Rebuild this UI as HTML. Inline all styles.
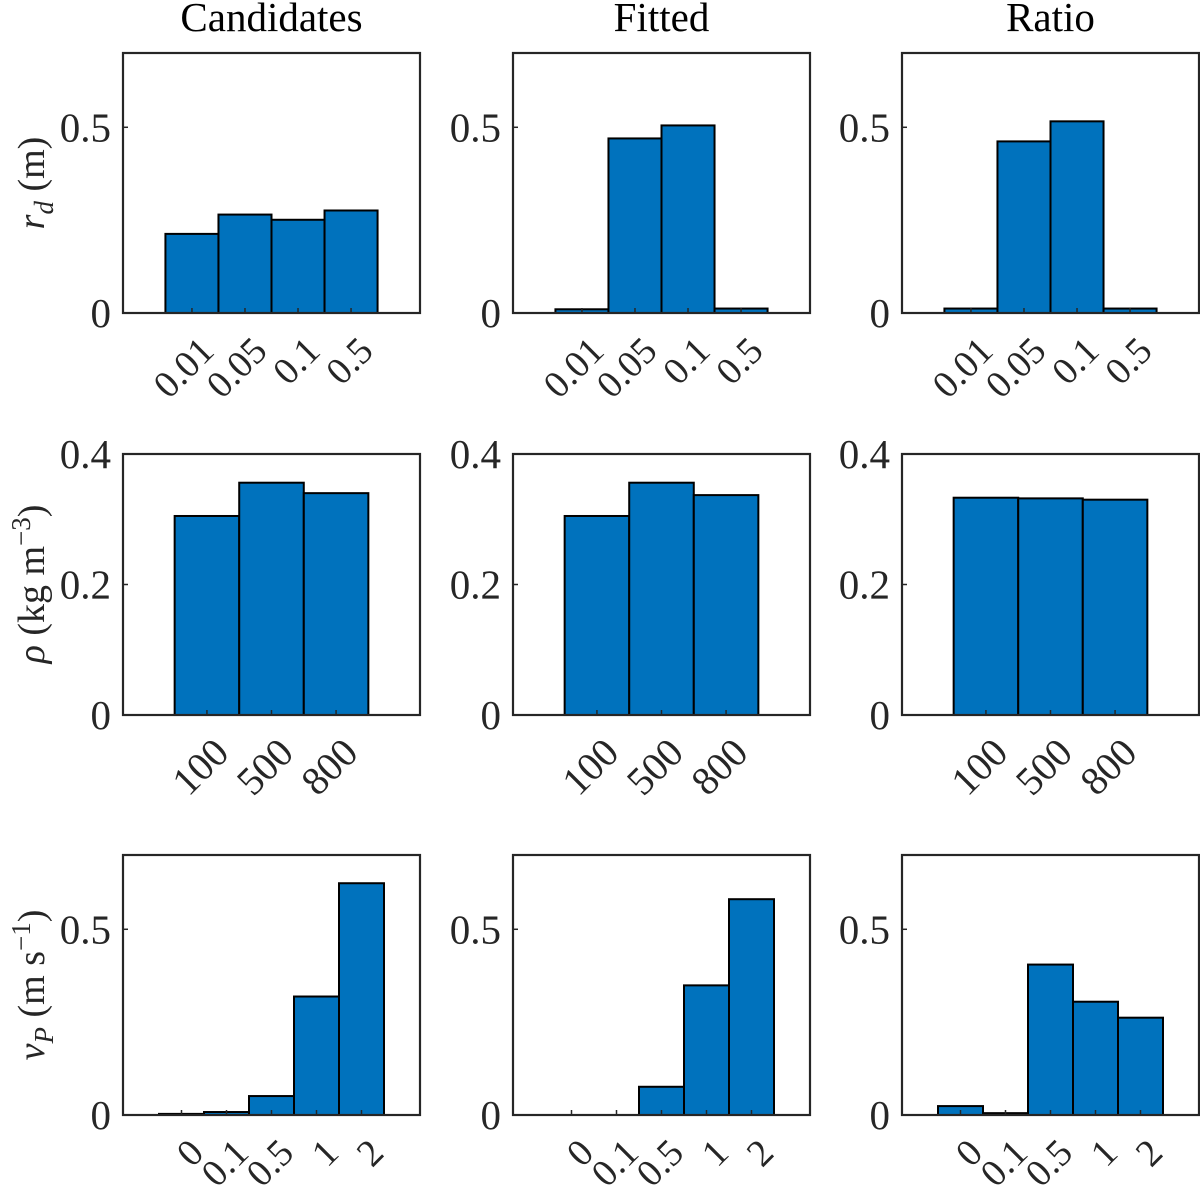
<!DOCTYPE html>
<html><head><meta charset="utf-8"><style>
html,body{margin:0;padding:0;background:#fff;}
svg{display:block;font-family:"Liberation Serif","DejaVu Serif",serif;}
</style></head><body>
<svg id="fig" width="1200" height="1187" viewBox="0 0 1200 1187"></svg>
<script>
const colTitles = ["Candidates","Fitted","Ratio"];
const rdCats = ["0.01","0.05","0.1","0.5"];
const rhoCats = ["100","500","800"];
const vpCats = ["0","0.1","0.5","1","2"];
const rdCandidates = [0.213,0.265,0.251,0.276];
const rdFitted = [0.010,0.470,0.505,0.012];
const rdRatio = [0.012,0.462,0.516,0.012];
const rhoCandidates = [0.305,0.356,0.340];
const rhoFitted = [0.305,0.356,0.337];
const rhoRatio = [0.333,0.332,0.330];
const vpCandidates = [0.003,0.008,0.051,0.319,0.624];
const vpFitted = [0,0,0.076,0.349,0.581];
const vpRatio = [0.024,0.005,0.405,0.305,0.262];
const rdTicks = [0,0.5];
const rhoTicks = [0,0.2,0.4];
const vpTicks = [0,0.5];

const NS="http://www.w3.org/2000/svg";
const svg=document.getElementById('fig');
function mk(tag,attrs,parent){const e=document.createElementNS(NS,tag);for(const k in attrs)e.setAttribute(k,attrs[k]);(parent||svg).appendChild(e);return e;}

const colX=[123,513,902], W=297;
const rows=[
 {top:53,bot:313,ymax:0.7,cats:rdCats,ticks:rdTicks,data:[rdCandidates,rdFitted,rdRatio],name:'rd',fs:38},
 {top:454,bot:715,ymax:0.4,cats:rhoCats,ticks:rhoTicks,data:[rhoCandidates,rhoFitted,rhoRatio],name:'rho',fs:40},
 {top:855,bot:1115,ymax:0.7,cats:vpCats,ticks:vpTicks,data:[vpCandidates,vpFitted,vpRatio],name:'vp',fs:38}
];
rows.forEach((r,ri)=>{
 const n=r.cats.length;
 const xmin=-0.3,xmax=n+1.3;
 colX.forEach((x0,ci)=>{
  const g=mk('g',{});
  
  
  const xs=v=>x0+(v-xmin)/(xmax-xmin)*W;
  const ys=v=>r.bot-v/r.ymax*(r.bot-r.top);
  mk('rect',{x:x0,y:r.top,width:W,height:r.bot-r.top,fill:'#fff'},g);
  r.data[ci].forEach((v,i)=>{
   const b=mk('rect',{x:xs(i+0.5),y:ys(v),width:xs(i+1.5)-xs(i+0.5),height:r.bot-ys(v),fill:'#0072BD',stroke:'#000','stroke-width':2},g);
   
   
  });
  mk('rect',{x:x0,y:r.top,width:W,height:r.bot-r.top,fill:'none',stroke:'#262626','stroke-width':2.2},g);
  r.ticks.forEach(t=>{
   const y=ys(t);
   mk('line',{x1:x0,x2:x0+5,y1:y,y2:y,stroke:'#262626','stroke-width':1.5},g);
   const tx=mk('text',{x:x0-12,y:y+14,'text-anchor':'end','font-size':41,fill:'#262626'},g);
   tx.textContent=String(t);
   
   
  });
  r.cats.forEach((c,i)=>{
   const x=xs(i+1);
   mk('line',{x1:x,x2:x,y1:r.bot,y2:r.bot-5,stroke:'#262626','stroke-width':1.5},g);
   const tx=mk('text',{x:0,y:0,'text-anchor':'end','font-size':r.fs,fill:'#262626',transform:`translate(${x+24},${r.bot+40}) rotate(-45)`},g);
   tx.textContent=c;
   
   
  });
  if(ri===0){
   const t=mk('text',{x:x0+W/2,y:31,'text-anchor':'middle','font-size':41,fill:'#000'});
   t.textContent=colTitles[ci];
   
   
  }
 });
});
const ylabs=[
 {y:183,html:'<tspan font-style="italic">r</tspan><tspan font-style="italic" font-size="27" dy="9">d</tspan><tspan dy="-9"> (m)</tspan>'},
 {y:584,html:'<tspan font-style="italic">ρ</tspan> (kg m<tspan font-size="27" dy="-14">−3</tspan><tspan dy="14">)</tspan>'},
 {y:985,html:'<tspan font-style="italic">v</tspan><tspan font-style="italic" font-size="27" dy="9">P</tspan><tspan dy="-9"> (m s</tspan><tspan font-size="27" dy="-14">−1</tspan><tspan dy="14">)</tspan>'}
];
ylabs.forEach(l=>{
 const t=mk('text',{x:0,y:0,'text-anchor':'middle','font-size':38,fill:'#262626',transform:`translate(44,${l.y}) rotate(-90)`});
 t.innerHTML=l.html;
 
 
});
</script>
</body></html>
